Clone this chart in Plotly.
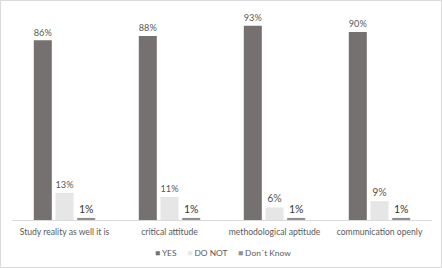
import plotly.graph_objects as go

categories = ["Study reality as well it is", "critical attitude", "methodological aptitude", "communication openly"]
yes_vals = [0.86, 0.88, 0.93, 0.90]
donot_vals = [0.13, 0.11, 0.06, 0.09]
dontknow_vals = [0.01, 0.01, 0.01, 0.01]
series_names = ["YES", "DO NOT", "Don´t Know"]

W, H = 442, 268
L, R, T, B = 12, 10, 11, 48
pw, ph = W - L - R, H - T - B
FONT = "Lato, Open Sans, Liberation Sans, sans-serif"

fig = go.Figure()
colors = ["#767171", "#e7e6e6", "#8f8f8f"]
txtcolors = ["#595959", "#595959", "#333333"]
for name, vals, c, tc in zip(series_names, [yes_vals, donot_vals, dontknow_vals], colors, txtcolors):
    fig.add_trace(go.Bar(
        x=categories, y=vals, name=name,
        marker=dict(color=c, line=dict(width=0)),
        text=[f"{round(v*100)}%" for v in vals],
        textposition="outside",
        textfont=dict(size=10.5, color=tc, family=FONT),
        cliponaxis=False,
        showlegend=False,
    ))

# legend drawn as a single centered text line with coloured squares
legend_text = "&nbsp;&nbsp;&nbsp;&nbsp;&nbsp;".join(
    f"<span style='color:{c}'>■</span>&nbsp;{n}" for n, c in zip(series_names, colors)
)
fig.add_annotation(
    text=legend_text, xref="paper", yref="paper",
    x=(222.8 - L) / pw, y=-(252.7 - (T + ph)) / ph,
    xanchor="center", yanchor="middle", showarrow=False,
    font=dict(size=8.4, color="#595959", family=FONT),
)

fig.update_layout(
    width=W, height=H,
    margin=dict(l=L, r=R, t=T, b=B),
    paper_bgcolor="white", plot_bgcolor="white",
    barmode="group", bargap=0.38, bargroupgap=0.17,
    font=dict(family=FONT, size=8.6, color="#595959"),
    xaxis=dict(showline=True, linecolor="#d9d9d9", linewidth=1, ticks="outside",
               ticklen=4, tickcolor="rgba(0,0,0,0)",
               tickfont=dict(size=8.6, color="#595959", family=FONT),
               showgrid=False, automargin=False),
    yaxis=dict(range=[0, 1.0], visible=False, showgrid=False, automargin=False),
    showlegend=False,
)
fig.add_shape(type="rect", xref="paper", yref="paper",
              x0=-(L - 0.5) / pw, x1=1 + (R - 0.5) / pw,
              y0=-(B - 0.5) / ph, y1=1 + (T - 0.5) / ph,
              line=dict(color="#d9d9d9", width=1), fillcolor="rgba(0,0,0,0)", layer="below")

fig.write_html("out.html", config={"displayModeBar": False},
               post_script="document.body.style.margin='0';document.body.style.overflow='hidden';")
